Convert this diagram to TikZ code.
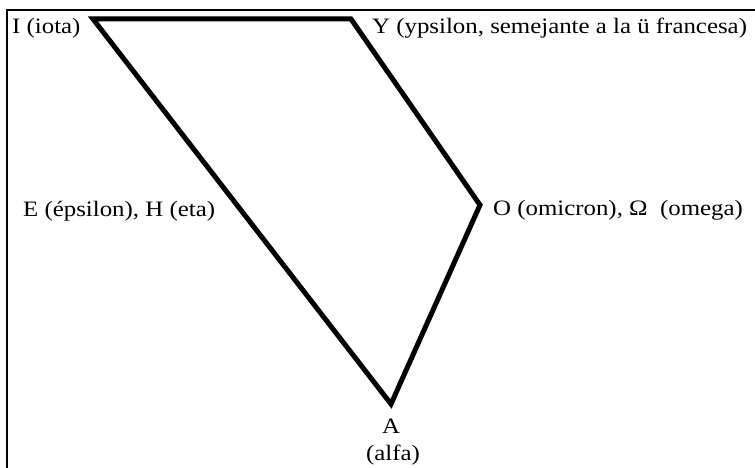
\documentclass[tikz,border=0pt]{standalone}
\usepackage{fontspec}
\setmainfont[FakeStretch=1.13]{Liberation Serif}
\begin{document}
\begin{tikzpicture}[x=1pt,y=-1pt,
  lbl/.style={inner sep=0pt, font=\fontsize{22}{24}\selectfont},
  edge/.style={line width=5pt, line join=miter},
  frame/.style={line width=2pt}]
\useasboundingbox (0,0) rectangle (755,468);
\draw[frame] (7,468) -- (7,10) -- (755,10);
\coordinate (I) at (93,19);
\coordinate (Y) at (351,19);
\coordinate (O) at (480,205);
\coordinate (A) at (391,404);
\draw[edge] (I) -- (Y) -- (O) -- (A) -- cycle;
\node[lbl, anchor=base west] (li) at (12,34) {I (iota)};
\node[lbl, anchor=base west] (ly) at (372,34) {Y (ypsilon, semejante a la ü francesa)};
\node[lbl, anchor=base west] (le) at (23,216) {E (épsilon), H (eta)};
\node[lbl, anchor=base west] (lo) at (493,215) {O (omicron), Ω\ \ (omega)};
\node[lbl, anchor=base] (la) at (391,433) {A};
\node[lbl, anchor=base] (lal) at (393,460) {(alfa)};
\end{tikzpicture}
\end{document}
